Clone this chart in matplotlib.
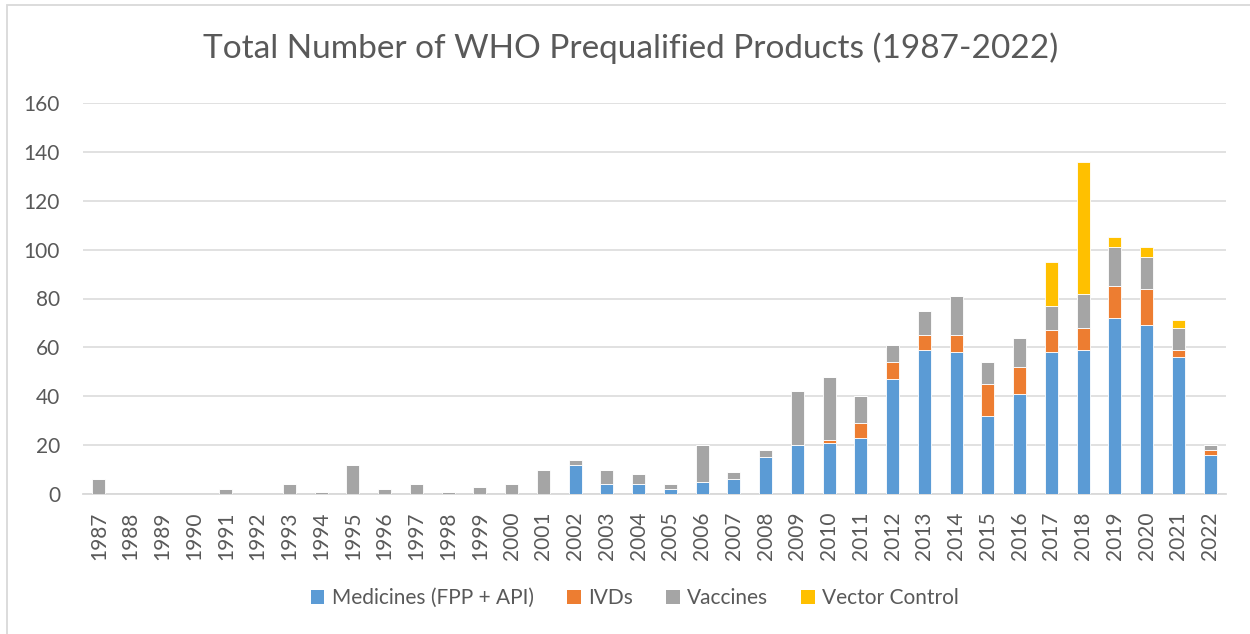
import numpy as np
import matplotlib
matplotlib.use("Agg")
import matplotlib.pyplot as plt
from matplotlib.patches import Patch, Rectangle

# =========================
# Data
# =========================
years = [str(y) for y in range(1987, 2023)]

medicines = [0, 0, 0, 0, 0, 0, 0, 0, 0, 0, 0, 0, 0, 0, 0,
             12, 4, 4, 2, 5, 6, 15, 20, 21, 23, 47, 59, 58, 32, 41,
             58, 59, 72, 69, 56, 16]
ivds = [0, 0, 0, 0, 0, 0, 0, 0, 0, 0, 0, 0, 0, 0, 0,
        0, 0, 0, 0, 0, 0, 0, 0, 1, 6, 7, 6, 7, 13, 11,
        9, 9, 13, 15, 3, 2]
vaccines = [6, 0, 0, 0, 2, 0, 4, 1, 12, 2, 4, 1, 3, 4, 10,
            2, 6, 4, 2, 15, 3, 3, 22, 26, 11, 7, 10, 16, 9, 12,
            10, 14, 16, 13, 9, 2]
vector_control = [0, 0, 0, 0, 0, 0, 0, 0, 0, 0, 0, 0, 0, 0, 0,
                  0, 0, 0, 0, 0, 0, 0, 0, 0, 0, 0, 0, 0, 0, 0,
                  18, 54, 4, 4, 3, 0]

series_names = ["Medicines (FPP + API)", "IVDs", "Vaccines", "Vector Control"]
series_colors = ["#5B9BD5", "#ED7D31", "#A5A5A5", "#FFC000"]

TITLE = "Total Number of WHO Prequalified Products (1987-2022)"
TEXT_COLOR = "#595959"
GRID_COLOR = "#D9D9D9"

plt.rcParams["font.family"] = ["Lato", "DejaVu Sans"]

# =========================
# Figure
# =========================
W, H = 1250, 634
fig = plt.figure(figsize=(W / 100, H / 100), dpi=100, facecolor="white")

# outer chart border (only top/left edges visible in the reference)
fig.patches.append(Rectangle((6.5 / W, -0.05), 1.2, 1 - 4.5 / H + 0.05,
                             transform=fig.transFigure, fill=False,
                             edgecolor=GRID_COLOR, linewidth=1.3))

ax = fig.add_axes([83 / W, 1 - 494 / H, (1226 - 83) / W, (494 - 103) / H])

x = np.arange(len(years))
bottom = np.zeros(len(years))
for name, vals, color in zip(series_names,
                             [medicines, ivds, vaccines, vector_control],
                             series_colors):
    vals = np.array(vals, dtype=float)
    ax.bar(x, vals, width=0.41, bottom=bottom, color=color,
           edgecolor="white", linewidth=0.6, label=name, zorder=3)
    bottom += vals

ax.set_xlim(-0.5, len(years) - 0.5)
ax.set_ylim(0, 160)
ax.set_yticks(range(0, 161, 20))
ax.set_xticks(x)
ax.set_xticklabels(years, rotation=90)

ax.grid(axis="y", color=GRID_COLOR, linewidth=1.1, zorder=0)
for side in ["top", "right", "left"]:
    ax.spines[side].set_visible(False)
ax.spines["bottom"].set_color(GRID_COLOR)
ax.spines["bottom"].set_linewidth(1.3)

ax.tick_params(axis="both", length=0, labelsize=15, labelcolor=TEXT_COLOR)
ax.tick_params(axis="y", pad=16.5)
ax.tick_params(axis="x", pad=12.5)

fig.text(631 / W, 1 - 48 / H, TITLE, ha="center", va="center",
         fontsize=24, color=TEXT_COLOR)

handles = [Patch(facecolor=c, edgecolor="none") for c in series_colors]
fig.legend(handles, series_names, loc="center", ncol=4,
           bbox_to_anchor=(635 / W, 1 - 598 / H), frameon=False,
           fontsize=15, labelcolor=TEXT_COLOR,
           handlelength=0.65, handleheight=0.65, handletextpad=0.35,
           columnspacing=1.6)

fig.savefig("out.png", dpi=100, facecolor="white")
